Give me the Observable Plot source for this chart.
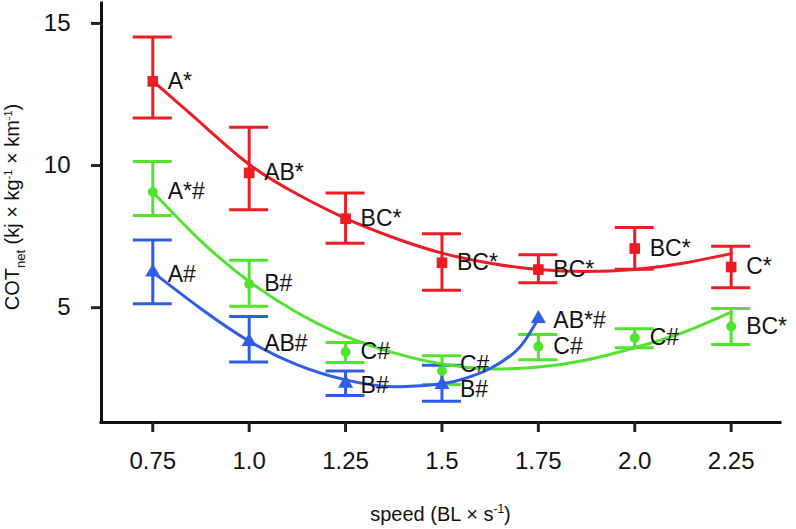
<!DOCTYPE html>
<html>
<head>
<meta charset="utf-8">
<script src="https://cdn.jsdelivr.net/npm/d3@7"></script>
<script src="https://cdn.jsdelivr.net/npm/@observablehq/plot@0.6"></script>
<style>
  html, body { margin: 0; padding: 0; background: #fff; }
  #chart { width: 796px; height: 529px; }
</style>
</head>
<body>
<div id="chart"></div>
<script>
// ---- data ----
const speeds = [0.75, 1.0, 1.25, 1.5, 1.75, 2.0, 2.25];

const redMean = [12.82, 9.60, 7.99, 6.44, 6.20, 6.94, 6.29];
const redLow  = [11.53, 8.30, 7.13, 5.47, 5.74, 6.21, 5.56];
const redHigh = [14.38, 11.21, 8.89, 7.46, 6.72, 7.68, 7.02];
const redLabels = ["A*", "AB*", "BC*", "BC*", "BC*", "BC*", "C*"];

const greenMean = [8.93, 5.69, 3.30, 2.63, 3.49, 3.79, 4.20];
const greenLow  = [8.10, 4.91, 2.93, 2.16, 3.03, 3.45, 3.56];
const greenHigh = [10.0, 6.53, 3.63, 3.17, 3.92, 4.12, 4.83];
const greenLabels = ["A*#", "B#", "C#", "C#", "C#", "C#", "BC*"];

const blueSpeeds = [0.75, 1.0, 1.25, 1.5, 1.75];
const blueMean = [6.11, 3.66, 2.20, 2.15, 4.47];
const blueLow  = [5.00, 2.95, 1.77, 1.57, null];
const blueHigh = [7.24, 4.55, 2.63, 2.83, null];
const blueLabels = ["A#", "AB#", "B#", "B#", "AB*#"];

// fitted curves
const fitX = [0.75, 0.875, 1.0, 1.125, 1.25, 1.375, 1.5, 1.625, 1.75, 1.875, 2.0, 2.125, 2.25];
const redFit   = [12.83, 11.35, 9.90, 8.85, 8.00, 7.32, 6.78, 6.42, 6.20, 6.13, 6.20, 6.42, 6.76];
const greenFit = [8.93, 7.20, 5.78, 4.68, 3.85, 3.27, 2.88, 2.71, 2.77, 3.02, 3.45, 3.98, 4.70];
const blueFitX = [0.75, 0.875, 1.0, 1.125, 1.25, 1.375, 1.5, 1.5625, 1.625, 1.6875, 1.72, 1.75];
const blueFit  = [6.11, 4.82, 3.68, 2.85, 2.32, 2.08, 2.18, 2.38, 2.72, 3.28, 3.80, 4.47];

const xTicks = [0.75, 1.0, 1.25, 1.5, 1.75, 2.0, 2.25];
const xTickLabels = ["0.75", "1.0", "1.25", "1.5", "1.75", "2.0", "2.25"];
const yTicks = [5, 10, 15];

const seriesNames = ["red", "green", "blue"];
const colors = {red: "#ec1c24", green: "#52e32f", blue: "#2f5de6"};
const symbols = {red: "square", green: "circle", blue: "triangle"};
const markerR = {red: 6, green: 5, blue: 5.6};

// ---- build tables ----
function rows(name, xs, mean, low, high, labels) {
  return xs.map((x, i) => ({series: name, x, mean: mean[i], low: low[i], high: high[i], label: labels[i]}));
}
const points = [
  ...rows("red", speeds, redMean, redLow, redHigh, redLabels),
  ...rows("green", speeds, greenMean, greenLow, greenHigh, greenLabels),
  ...rows("blue", blueSpeeds, blueMean, blueLow, blueHigh, blueLabels)
];
// labels of green and blue that sit very close at the same speed are pushed apart
const blueAt = new Map(points.filter(d => d.series === "blue").map(d => [d.x, d.mean]));
const greenAt = new Map(points.filter(d => d.series === "green").map(d => [d.x, d.mean]));
for (const d of points) {
  d.crowded = false;
  if (d.series === "green" && blueAt.has(d.x)) d.crowded = Math.abs(d.mean - blueAt.get(d.x)) < 0.8;
  if (d.series === "blue" && greenAt.has(d.x)) d.crowded = Math.abs(d.mean - greenAt.get(d.x)) < 0.8;
}
function labelDy(d) {
  if (d.series === "blue") return d.crowded ? 5 : 2;
  if (d.series === "green") return d.crowded ? -6 : 0;
  return 0;
}

const bars = points.filter(d => d.low != null);
const fits = [
  ...fitX.map((x, i) => ({series: "red", x, y: redFit[i]})),
  ...fitX.map((x, i) => ({series: "green", x, y: greenFit[i]})),
  ...blueFitX.map((x, i) => ({series: "blue", x, y: blueFit[i]}))
];

const xDomain = [0.617, 2.378];
const yDomain = [0.82, 15.56];
const font = "'Liberation Sans', Arial, Helvetica, sans-serif";

const marks = [
  Plot.ruleX([xDomain[0]], {stroke: "#111", strokeWidth: 3, strokeLinecap: "square"}),
  Plot.ruleY([yDomain[0]], {stroke: "#111", strokeWidth: 3, strokeLinecap: "square"}),
  Plot.axisX({ticks: xTicks, tickFormat: d => xTickLabels[xTicks.indexOf(d)], tickSize: 10, tickPadding: 19,
              strokeWidth: 3, stroke: "#222", fontSize: 24, fill: "#111", label: null}),
  Plot.axisY({ticks: yTicks, tickSize: 10, tickPadding: 21, strokeWidth: 3, stroke: "#222",
              fontSize: 24, fill: "#111", dy: 4, label: null})
];

for (const s of seriesNames) {
  const b = bars.filter(d => d.series === s);
  marks.push(
    Plot.ruleX(b, {x: "x", y1: "low", y2: "high", stroke: colors[s], strokeWidth: 3}),
    Plot.ruleY(b, {y: "low", x1: "x", x2: "x", insetLeft: -19.5, insetRight: -19.5, stroke: colors[s], strokeWidth: 3}),
    Plot.ruleY(b, {y: "high", x1: "x", x2: "x", insetLeft: -19.5, insetRight: -19.5, stroke: colors[s], strokeWidth: 3})
  );
}
for (const s of seriesNames) {
  marks.push(Plot.line(fits.filter(d => d.series === s), {x: "x", y: "y", stroke: colors[s], strokeWidth: 3, curve: "natural"}));
}
for (const s of seriesNames) {
  const p = points.filter(d => d.series === s);
  marks.push(Plot.dot(p, {x: "x", y: "mean", symbol: symbols[s], fill: colors[s], stroke: "none", r: markerR[s]}));
  for (const crowded of [false, true]) {
    const q = p.filter(d => d.crowded === crowded);
    if (!q.length) continue;
    marks.push(Plot.text(q, {x: "x", y: "mean", text: "label", textAnchor: "start",
                             dx: crowded ? 18 : 15, dy: labelDy(q[0]), fontSize: 23, fill: "#111"}));
  }
}

const svg = Plot.plot({
  width: 796,
  height: 529,
  marginLeft: 101,
  marginRight: 16,
  marginTop: 3,
  marginBottom: 107,
  x: {domain: xDomain},
  y: {domain: yDomain},
  style: {fontFamily: font, background: "#fff", color: "#111"},
  marks
});

// axis titles with sub/superscripts
const sel = d3.select(svg);
const xt = sel.append("text")
  .attr("x", 440.5).attr("y", 521)
  .attr("text-anchor", "middle")
  .attr("font-family", font).attr("font-size", 20).attr("fill", "#111");
xt.append("tspan").text("speed (BL × s");
xt.append("tspan").attr("font-size", 12).attr("dy", -8).text("-1");
xt.append("tspan").attr("dy", 8).text(")");

const yt = sel.append("text")
  .attr("transform", "translate(19,207) rotate(-90)")
  .attr("text-anchor", "middle")
  .attr("font-family", font).attr("font-size", 20).attr("fill", "#111");
yt.append("tspan").text("COT");
yt.append("tspan").attr("font-size", 13).attr("dy", 6).text("net");
yt.append("tspan").attr("dy", -6).text(" (kj × kg");
yt.append("tspan").attr("font-size", 11).attr("dy", -7).text("-1");
yt.append("tspan").attr("dy", 7).text(" × km");
yt.append("tspan").attr("font-size", 11).attr("dy", -7).text("-1");
yt.append("tspan").attr("dy", 7).text(")");

document.getElementById("chart").appendChild(svg);
</script>
</body>
</html>
